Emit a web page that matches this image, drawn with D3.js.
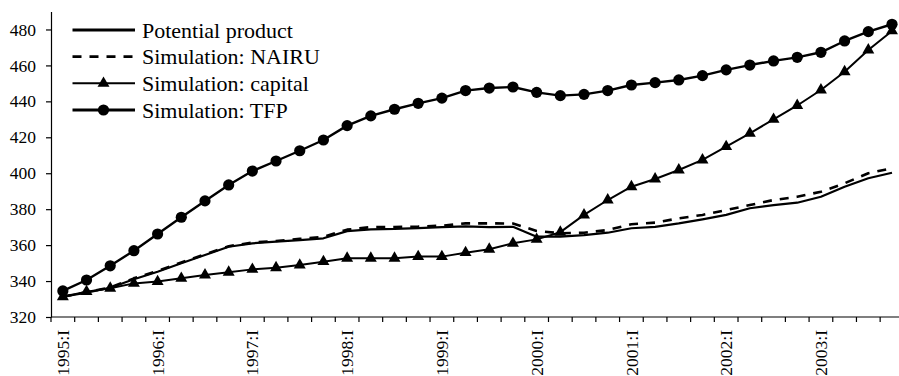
<!DOCTYPE html>
<html>
<head>
<meta charset="utf-8">
<script src="https://cdn.jsdelivr.net/npm/d3@7"></script>
<style>
  html, body { margin: 0; padding: 0; background: #fff; overflow: hidden; }
  svg { display: block; }
</style>
</head>
<body>
<svg id="chart" width="899" height="376"></svg>
<script>
// Quarterly categories, 1995:I .. 2003:IV
const years = [1995, 1996, 1997, 1998, 1999, 2000, 2001, 2002, 2003];
const quarterNames = ["I", "II", "III", "IV"];
const quarters = years.flatMap(yr => quarterNames.map(q => `${yr}:${q}`));

const seriesNames = ["Potential product", "Simulation: NAIRU", "Simulation: capital", "Simulation: TFP"];

const potential = [331.3, 333.6, 336.3, 341.0, 345.2, 349.9, 354.5, 359.1, 361.0, 361.9,
  362.8, 363.8, 367.8, 368.8, 369.0, 369.5, 370.0, 370.4, 370.0, 370.2,
  364.7, 364.7, 365.6, 366.9, 369.4, 370.2, 372.1, 374.3, 376.8, 380.5,
  382.3, 383.6, 386.9, 392.5, 397.2, 400.3];

const nairu = [331.3, 333.8, 336.5, 341.5, 345.6, 350.3, 354.9, 359.4, 361.4, 362.3,
  363.5, 364.6, 368.6, 370.0, 370.1, 370.3, 370.8, 372.1, 372.1, 372.0,
  367.9, 366.6, 366.9, 368.4, 371.6, 372.5, 374.9, 376.8, 379.5, 382.3,
  385.1, 386.9, 389.7, 394.4, 400.0, 402.8];

const capital = [331.3, 334.1, 336.0, 338.7, 339.7, 341.5, 343.4, 344.9, 346.5, 347.4,
  348.9, 350.8, 352.7, 352.7, 352.7, 353.6, 353.6, 355.8, 357.7, 361.0,
  363.2, 367.2, 376.8, 385.1, 392.5, 396.8, 401.8, 407.4, 414.8, 422.2,
  430.0, 437.7, 446.3, 456.5, 468.6, 479.2];

const tfp = [334.5, 340.6, 348.5, 356.9, 366.2, 375.5, 384.6, 393.5, 401.2, 406.8,
  412.5, 418.5, 426.5, 431.9, 435.6, 438.9, 441.8, 446.0, 447.4, 448.0,
  445.0, 443.2, 443.9, 446.0, 449.1, 450.4, 451.9, 454.3, 457.5, 460.2,
  462.5, 464.5, 467.3, 473.6, 478.8, 482.9];

const yTicks = [320, 340, 360, 380, 400, 420, 440, 460, 480];
const yMin = 320, yMax = 490;

const FONT = "'Liberation Serif', 'Times New Roman', Times, serif";

const svg = d3.select("#chart");

// Plot frame
const plotLeft = 51, plotBottom = 317, plotTop = 11.5;
const step = 23.69;
const x = d3.scaleBand().domain(quarters).range([plotLeft, plotLeft + quarters.length * step]).padding(0);
const y = d3.scaleLinear().domain([yMin, yMax]).range([plotBottom, plotTop]);
const cx = q => x(q) + x.bandwidth() / 2;

// Y axis
const yAxis = d3.axisLeft(y).tickValues(yTicks).tickSize(5).tickSizeOuter(0).tickPadding(10);
const gy = svg.append("g").attr("transform", `translate(${plotLeft},0)`).call(yAxis);
gy.select(".domain").attr("stroke", "#000").attr("stroke-width", 1.2);
gy.selectAll(".tick line").attr("stroke", "#000").attr("stroke-width", 1.2);
gy.selectAll(".tick text")
  .attr("font-family", FONT).attr("font-size", 17.5).attr("fill", "#000");

// X axis: line, boundary ticks, rotated labels for first quarters
const gx = svg.append("g");
gx.append("line")
  .attr("x1", plotLeft).attr("x2", x.range()[1])
  .attr("y1", plotBottom).attr("y2", plotBottom)
  .attr("stroke", "#000").attr("stroke-width", 1.2);
const boundaries = quarters.map(q => x(q)).concat([x.range()[1]]);
gx.selectAll("line.tk").data(boundaries).join("line")
  .attr("class", "tk")
  .attr("x1", d => d).attr("x2", d => d)
  .attr("y1", plotBottom).attr("y2", plotBottom + 5)
  .attr("stroke", "#000").attr("stroke-width", 1.2);
gx.selectAll("text").data(quarters.filter(q => q.endsWith(":I"))).join("text")
  .attr("transform", q => `translate(${cx(q)},${plotBottom + 13}) rotate(-90)`)
  .attr("text-anchor", "end")
  .attr("dy", "0.35em")
  .attr("font-family", FONT).attr("font-size", 17.5).attr("fill", "#000")
  .text(q => q);

// Series
const line = d3.line().x((d, i) => cx(quarters[i])).y(d => y(d));

const styles = [
  { data: potential, width: 2.2, dash: null, marker: null },
  { data: nairu, width: 2.6, dash: "9,8", marker: null },
  { data: capital, width: 2.0, dash: null, marker: "triangle" },
  { data: tfp, width: 2.4, dash: null, marker: "circle" }
];

const triPath = d3.symbol().type(d3.symbolTriangle).size(62)();

styles.forEach(s => {
  const g = svg.append("g");
  g.append("path")
    .attr("d", line(s.data))
    .attr("fill", "none").attr("stroke", "#000")
    .attr("stroke-width", s.width)
    .attr("stroke-dasharray", s.dash)
    .attr("stroke-linejoin", "round");
  if (s.marker === "circle") {
    g.selectAll("circle").data(s.data).join("circle")
      .attr("cx", (d, i) => cx(quarters[i])).attr("cy", d => y(d))
      .attr("r", 5.6).attr("fill", "#000");
  } else if (s.marker === "triangle") {
    g.selectAll("path.m").data(s.data).join("path")
      .attr("class", "m")
      .attr("d", triPath)
      .attr("transform", (d, i) => `translate(${cx(quarters[i])},${y(d)})`)
      .attr("fill", "#000");
  }
});

// Legend
const legend = svg.append("g");
const rowY = [30, 56.7, 83.3, 110];
styles.forEach((s, i) => {
  const g = legend.append("g").attr("transform", `translate(0,${rowY[i]})`);
  g.append("line")
    .attr("x1", 72.5).attr("x2", 135).attr("y1", 0).attr("y2", 0)
    .attr("stroke", "#000")
    .attr("stroke-width", i === 2 ? 2.0 : 2.8)
    .attr("stroke-dasharray", s.dash);
  if (s.marker === "circle") {
    g.append("circle").attr("cx", 103.5).attr("cy", 0).attr("r", 5.6).attr("fill", "#000");
  } else if (s.marker === "triangle") {
    g.append("path").attr("d", triPath).attr("transform", "translate(103.5,0)").attr("fill", "#000");
  }
  g.append("text")
    .attr("x", 142).attr("y", 0).attr("dy", "0.35em")
    .attr("font-family", FONT).attr("font-size", 22).attr("fill", "#000")
    .text(seriesNames[i]);
});
</script>
</body>
</html>
